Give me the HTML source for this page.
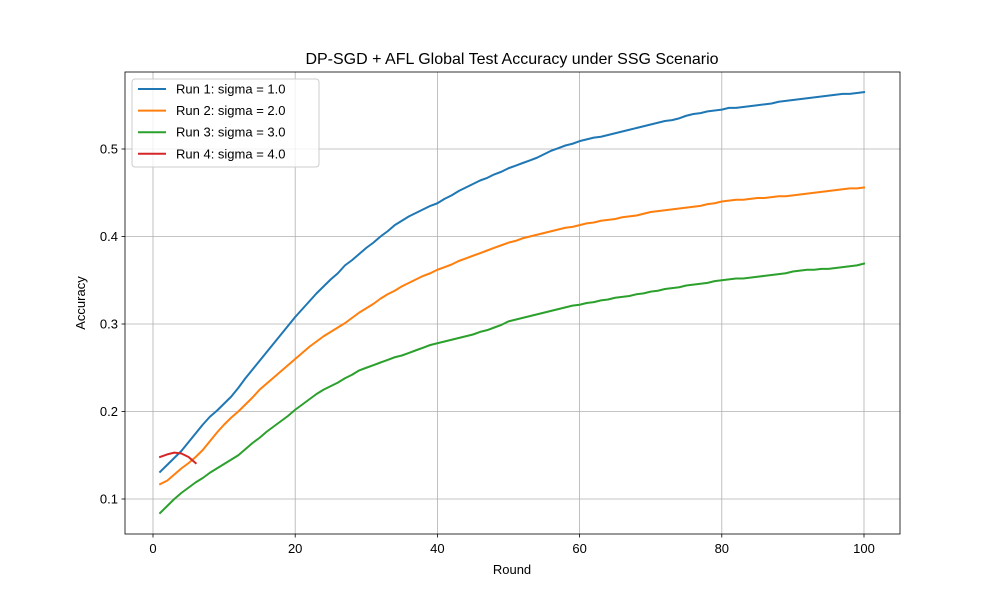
<!DOCTYPE html>
<html><head><meta charset="utf-8"><style>
body{margin:0;background:#fff}
svg text{font-family:"Liberation Sans","DejaVu Sans",sans-serif;fill:#000}
</style></head><body>
<svg id="chart" width="1000" height="600" xmlns="http://www.w3.org/2000/svg">
<rect width="1000" height="600" fill="#fff"/>
<g id="grid"></g>
<g id="series"></g>
<rect x="125" y="72" width="775" height="462" fill="none" stroke="#000" stroke-width="0.8"/>
<g id="ticks"></g>
<text x="512" y="64" font-size="16" text-anchor="middle">DP-SGD + AFL Global Test Accuracy under SSG Scenario</text>
<text x="512" y="574" font-size="13" text-anchor="middle">Round</text>
<text x="85" y="303" font-size="13" text-anchor="middle" transform="rotate(-90 85 303)">Accuracy</text>
<g id="legend"></g>
</svg>
<script>
const xTicks=[0,20,40,60,80,100];
const yTicks=[0.1,0.2,0.3,0.4,0.5];
const yTickLabels=["0.1","0.2","0.3","0.4","0.5"];
const seriesNames=["Run 1: sigma = 1.0","Run 2: sigma = 2.0","Run 3: sigma = 3.0","Run 4: sigma = 4.0"];
const colors=["#1f77b4","#ff7f0e","#2ca02c","#d62728"];
const run1=[0.131,0.139,0.147,0.155,0.165,0.175,0.185,0.194,0.201,0.209,0.217,0.227,0.238,0.248,0.258,0.268,0.278,0.288,0.298,0.308,0.317,0.326,0.335,0.343,0.351,0.358,0.367,0.373,0.380,0.387,0.393,0.400,0.406,0.413,0.418,0.423,0.427,0.431,0.435,0.438,0.443,0.447,0.452,0.456,0.460,0.464,0.467,0.471,0.474,0.478,0.481,0.484,0.487,0.490,0.494,0.498,0.501,0.504,0.506,0.509,0.511,0.513,0.514,0.516,0.518,0.520,0.522,0.524,0.526,0.528,0.530,0.532,0.533,0.535,0.538,0.540,0.541,0.543,0.544,0.545,0.547,0.547,0.548,0.549,0.550,0.551,0.552,0.554,0.555,0.556,0.557,0.558,0.559,0.560,0.561,0.562,0.563,0.563,0.564,0.565];
const run2=[0.117,0.121,0.128,0.135,0.141,0.148,0.156,0.166,0.176,0.185,0.193,0.200,0.208,0.216,0.225,0.232,0.239,0.246,0.253,0.260,0.267,0.274,0.280,0.286,0.291,0.296,0.301,0.307,0.313,0.318,0.323,0.329,0.334,0.338,0.343,0.347,0.351,0.355,0.358,0.362,0.365,0.368,0.372,0.375,0.378,0.381,0.384,0.387,0.390,0.393,0.395,0.398,0.400,0.402,0.404,0.406,0.408,0.410,0.411,0.413,0.415,0.416,0.418,0.419,0.420,0.422,0.423,0.424,0.426,0.428,0.429,0.430,0.431,0.432,0.433,0.434,0.435,0.437,0.438,0.440,0.441,0.442,0.442,0.443,0.444,0.444,0.445,0.446,0.446,0.447,0.448,0.449,0.450,0.451,0.452,0.453,0.454,0.455,0.455,0.456];
const run3=[0.084,0.092,0.100,0.107,0.113,0.119,0.124,0.130,0.135,0.140,0.145,0.150,0.157,0.164,0.170,0.177,0.183,0.189,0.195,0.202,0.208,0.214,0.220,0.225,0.229,0.233,0.238,0.242,0.247,0.250,0.253,0.256,0.259,0.262,0.264,0.267,0.270,0.273,0.276,0.278,0.280,0.282,0.284,0.286,0.288,0.291,0.293,0.296,0.299,0.303,0.305,0.307,0.309,0.311,0.313,0.315,0.317,0.319,0.321,0.322,0.324,0.325,0.327,0.328,0.330,0.331,0.332,0.334,0.335,0.337,0.338,0.340,0.341,0.342,0.344,0.345,0.346,0.347,0.349,0.350,0.351,0.352,0.352,0.353,0.354,0.355,0.356,0.357,0.358,0.360,0.361,0.362,0.362,0.363,0.363,0.364,0.365,0.366,0.367,0.369];
const run4=[0.148,0.151,0.153,0.152,0.148,0.141];
const allRuns=[run1,run2,run3,run4];

const NS="http://www.w3.org/2000/svg";
const xs=v=>153+(v-0)*(864-153)/100;
const ys=v=>499-(v-0.1)*(499-149)/0.4;
function mk(tag,attrs,parent){const e=document.createElementNS(NS,tag);for(const k in attrs)e.setAttribute(k,attrs[k]);parent.appendChild(e);return e;}
const grid=document.getElementById('grid'),ticks=document.getElementById('ticks'),ser=document.getElementById('series'),leg=document.getElementById('legend');
xTicks.forEach(t=>{
 const x=xs(t);
 const g=mk('line',{x1:x,x2:x,y1:72,y2:534,stroke:'#b0b0b0','stroke-width':0.8},grid);
 
 const tk=mk('line',{x1:x,x2:x,y1:534,y2:537.5,stroke:'#000','stroke-width':0.8},ticks);
 
 const tx=mk('text',{x:x,y:553,'font-size':13,'text-anchor':'middle'},ticks);tx.textContent=t;
 
});
yTicks.forEach((t,i)=>{
 const y=ys(t);
 const g=mk('line',{x1:125,x2:900,y1:y,y2:y,stroke:'#b0b0b0','stroke-width':0.8},grid);
 
 const tk=mk('line',{x1:121.5,x2:125,y1:y,y2:y,stroke:'#000','stroke-width':0.8},ticks);
 
 const tx=mk('text',{x:118,y:y+4.5,'font-size':13,'text-anchor':'end'},ticks);tx.textContent=yTickLabels[i];
 
});
allRuns.forEach((d,i)=>{
 const pts=d.map((v,j)=>xs(j+1).toFixed(2)+','+ys(v).toFixed(2)).join(' ');
 const p=mk('polyline',{points:pts,fill:'none',stroke:colors[i],'stroke-width':2,'stroke-linejoin':'round','stroke-linecap':'square'},ser);
 
});
const box=mk('rect',{x:132,y:79,width:187,height:88,rx:3,fill:'#fff','fill-opacity':0.8,stroke:'#ccc','stroke-width':1},leg);

seriesNames.forEach((n,i)=>{
 const y=89+i*21.6;
 const l=mk('line',{x1:138,x2:166,y1:y,y2:y,stroke:colors[i],'stroke-width':2},leg);
 
 const t=mk('text',{x:176,y:y+4.5,'font-size':13},leg);t.textContent=n;
 
});
</script>
</body></html>
